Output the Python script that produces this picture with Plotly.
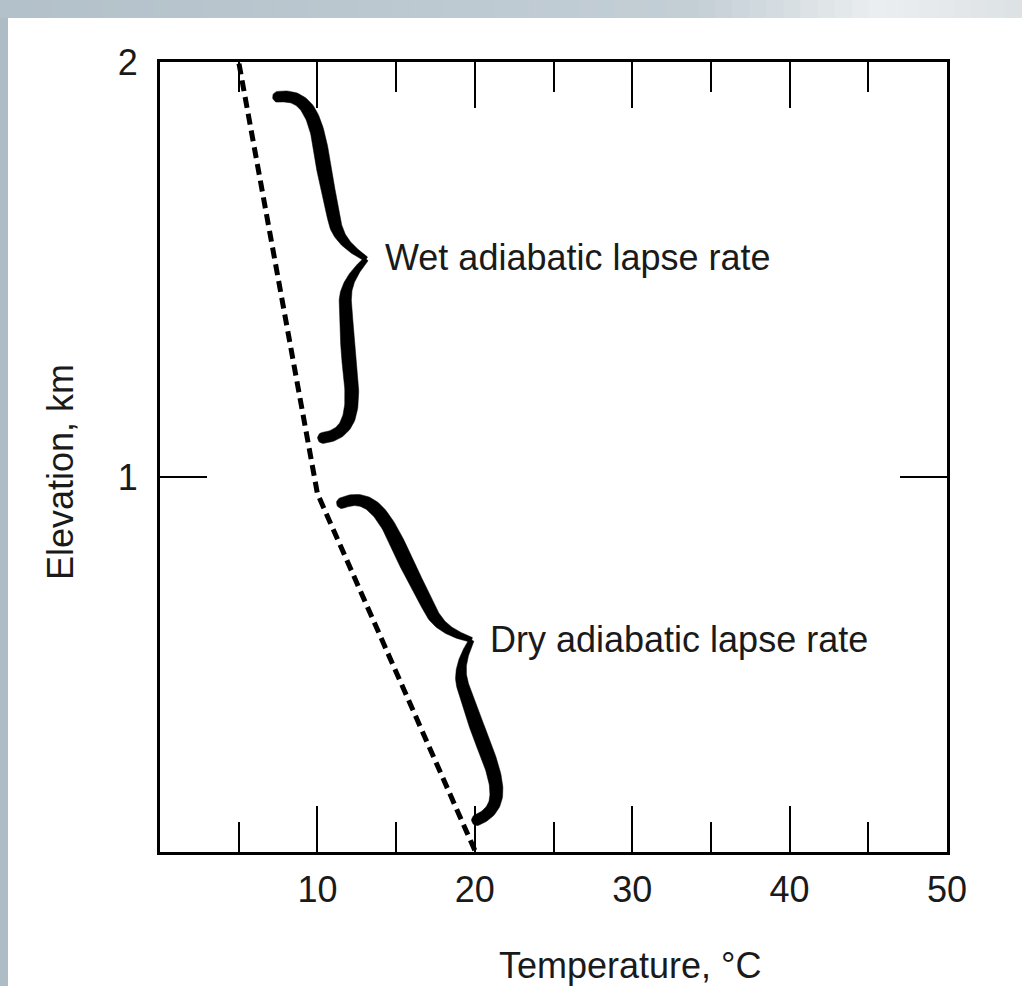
import numpy as np
import plotly.graph_objects as go

# ---------------- data ----------------
temperature = [20, 10, 5]          # deg C
elevation = [0.1, 0.96, 2.0]       # km

x_tick_vals = [10, 20, 30, 40, 50]
x_tick_text = ["10", "20", "30", "40", "50"]
x_minor_vals = [5, 15, 25, 35, 45]
y_tick_vals = [1, 2]
y_tick_text = ["1", "2"]

wet_label = "Wet adiabatic lapse rate"
dry_label = "Dry adiabatic lapse rate"
x_title = "Temperature, °C"
y_title = "Elevation, km"

# brace anchors (temperature, elevation): start end, finish end, tip
wet_brace = [(7.5, 1.916), (10.36, 1.094), (13.1, 1.525)]
dry_brace = [(11.56, 0.937), (20.14, 0.173), (19.8, 0.607)]
wet_label_pos = (14.15, 1.529)
dry_label_pos = (20.82, 0.607)

# ---------------- layout constants ----------------
W, H = 1022, 986
ML, MR, MT, MB = 160, 75, 62, 134
X_RANGE = [0, 50]
Y_RANGE = [0.096, 2.0]
plot_w = W - ML - MR
plot_h = H - MT - MB
sx = plot_w / (X_RANGE[1] - X_RANGE[0])
sy = plot_h / (Y_RANGE[1] - Y_RANGE[0])
FONT = "Liberation Sans, Arial, sans-serif"
TXT = "#1a1a1a"


def bezier(p0, p1, p2, p3, n=40):
    t = np.linspace(0, 1, n)[:, None]
    p0, p1, p2, p3 = map(np.array, (p0, p1, p2, p3))
    return ((1 - t) ** 3) * p0 + 3 * ((1 - t) ** 2) * t * p1 + 3 * (1 - t) * t ** 2 * p2 + t ** 3 * p3


def half_profile():
    a = bezier((0, 0), (0, 0.42), (0.13, 0.52), (0.35, 0.54))
    b = bezier((0.35, 0.54), (0.5, 0.55), (0.62, 0.57), (0.76, 0.6))
    c = bezier((0.76, 0.6), (0.86, 0.62), (0.93, 0.78), (1.0, 1.0))
    return np.vstack([a, b[1:], c[1:]])


def thickness(s):
    return np.interp(s, [0, 0.1, 0.45, 0.8, 0.95, 1.0], [11, 13, 15, 12, 7, 5])


def half_polygon(pts, th):
    tang = np.gradient(pts, axis=0)
    tang /= np.linalg.norm(tang, axis=1)[:, None]
    nrm = np.stack([-tang[:, 1], tang[:, 0]], axis=1)
    left = pts + nrm * th[:, None] / 2
    right = pts - nrm * th[:, None] / 2
    th0 = np.arctan2(nrm[0, 1], nrm[0, 0])
    ang = np.linspace(th0 + np.pi, th0, 16)
    cap = pts[0] + (th[0] / 2) * np.stack([np.cos(ang), np.sin(ang)], axis=1)
    return np.vstack([left, right[::-1], cap])


def brace_polys(brace):
    start, end, tip = [np.array([p[0] * sx, p[1] * sy]) for p in brace]
    L = np.linalg.norm(end - start)
    d = (end - start) / L
    n = np.array([-d[1], d[0]])
    if np.dot(tip - start, n) < 0:
        n = -n
    w = np.dot(tip - start, n)
    a_tip = np.dot(tip - start, d)
    prof = half_profile()
    polys = []
    a1 = prof[:, 0] * a_tip
    pts1 = start + a1[:, None] * d + (prof[:, 1] * w)[:, None] * n
    a2 = L - prof[:, 0] * (L - a_tip)
    pts2 = start + a2[:, None] * d + (prof[:, 1] * w)[:, None] * n
    for pts in (pts1, pts2):
        poly = half_polygon(pts, thickness(prof[:, 0]))
        polys.append((poly[:, 0] / sx, poly[:, 1] / sy))
    return polys


fig = go.Figure()

fig.add_trace(go.Scatter(
    x=temperature, y=elevation, mode="lines",
    line=dict(color="black", width=5, dash="11px,6px"),
    showlegend=False, hoverinfo="skip"))

for br in (wet_brace, dry_brace):
    for px, py in brace_polys(br):
        fig.add_trace(go.Scatter(
            x=px, y=py, mode="lines", fill="toself", fillcolor="black",
            line=dict(color="black", width=0.5), showlegend=False, hoverinfo="skip"))

annotations = [
    dict(x=wet_label_pos[0], y=wet_label_pos[1], xref="x", yref="y", text=wet_label,
         showarrow=False, xanchor="left", yanchor="middle",
         font=dict(size=36, color=TXT, family=FONT)),
    dict(x=dry_label_pos[0], y=dry_label_pos[1], xref="x", yref="y", text=dry_label,
         showarrow=False, xanchor="left", yanchor="middle",
         font=dict(size=36, color=TXT, family=FONT)),
    dict(x=(630 - ML) / plot_w, y=(H - MB - 965) / plot_h, xref="paper", yref="paper",
         text=x_title, showarrow=False, xanchor="center", yanchor="middle",
         font=dict(size=36, color=TXT, family=FONT)),
    dict(x=(60 - ML) / plot_w, y=(H - MB - 472) / plot_h, xref="paper", yref="paper",
         text=y_title, showarrow=False, textangle=-90, xanchor="center", yanchor="middle",
         font=dict(size=36, color=TXT, family=FONT)),
]


def hex_to_rgb(h):
    h = h.lstrip("#")
    return np.array([int(h[i:i + 2], 16) for i in (0, 2, 4)], dtype=float)


def px_x(p):
    return (p - ML) / plot_w


def px_y(p):
    return (H - MB - p) / plot_h


shapes = []
stops_x = [0, 700, 880, 1022]
stops_c = [hex_to_rgb(c) for c in ("#b3c1ca", "#c4cfd6", "#eceff1", "#dde2e5")]
nseg = 60
edges = np.linspace(0, W, nseg + 1)
for i in range(nseg):
    xm = (edges[i] + edges[i + 1]) / 2
    col = [np.interp(xm, stops_x, [c[k] for c in stops_c]) for k in range(3)]
    shapes.append(dict(type="rect", xref="paper", yref="paper",
                       x0=px_x(edges[i]), x1=px_x(edges[i + 1] + 1), y0=px_y(18), y1=px_y(0),
                       fillcolor="rgb(%d,%d,%d)" % tuple(int(v) for v in col),
                       line=dict(width=0), layer="below"))
shapes.append(dict(type="rect", xref="paper", yref="paper",
                   x0=px_x(0), x1=px_x(8), y0=px_y(H), y1=px_y(18),
                   fillcolor="#aebcc6", line=dict(width=0), layer="below"))

fig.update_layout(
    width=W, height=H, autosize=False,
    margin=dict(l=ML, r=MR, t=MT, b=MB, pad=0),
    paper_bgcolor="white", plot_bgcolor="white",
    showlegend=False,
    annotations=annotations,
    shapes=shapes,
    font=dict(family=FONT, size=36, color=TXT),
    xaxis=dict(
        range=X_RANGE, tickmode="array", tickvals=x_tick_vals, ticktext=x_tick_text,
        ticks="inside", ticklen=46, tickwidth=2, tickcolor="black",
        minor=dict(tickmode="array", tickvals=x_minor_vals, ticks="inside",
                   ticklen=30, tickwidth=2, tickcolor="black", showgrid=False),
        showline=True, linecolor="black", linewidth=3, mirror="allticks",
        showgrid=False, zeroline=False, ticklabelstandoff=4,
        tickfont=dict(size=36, color=TXT, family=FONT)),
    yaxis=dict(
        range=Y_RANGE, tickmode="array", tickvals=y_tick_vals, ticktext=y_tick_text,
        ticks="inside", ticklen=47, tickwidth=2, tickcolor="black",
        showline=True, linecolor="black", linewidth=3, mirror="allticks",
        showgrid=False, zeroline=False, ticklabelstandoff=12,
        tickfont=dict(size=36, color=TXT, family=FONT)),
)

fig.write_html("out.html")
